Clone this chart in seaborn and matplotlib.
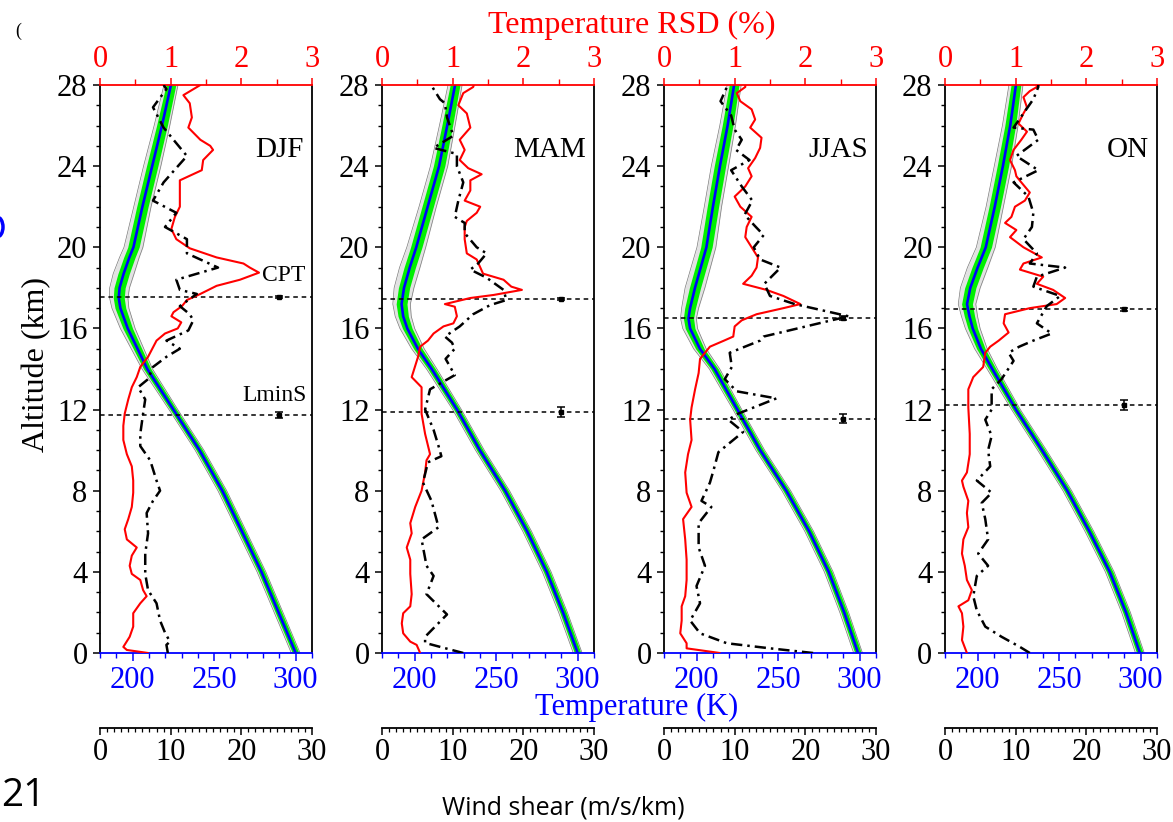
import numpy as np
import seaborn as sns
import matplotlib
matplotlib.use("Agg")
import matplotlib.pyplot as plt
from matplotlib.ticker import MultipleLocator
from matplotlib.patches import Arc

sns.set_style("ticks")
plt.rcParams["font.family"] = ["Liberation Serif", "DejaVu Serif"]
plt.rcParams["text.color"] = "black"
plt.rcParams["axes.labelcolor"] = "black"
plt.rcParams["xtick.color"] = "black"
plt.rcParams["ytick.color"] = "black"

# ---------------- data ----------------
seasons = ["DJF", "MAM", "JJAS", "ON"]
cpt_alt = [17.55, 17.45, 16.5, 16.95]
cpt_err = [0.07, 0.06, 0.10, 0.08]
lmins_alt = [11.73, 11.88, 11.55, 12.22]
lmins_err = [0.15, 0.25, 0.22, 0.25]

# mean temperature profiles (K)
djf_t_alt = [0, 2, 4, 6, 8, 10, 12, 13, 14, 15, 16, 17, 17.5, 18, 18.7, 19.5, 20, 22, 24, 26, 28]
djf_t = [300, 289.5, 279, 267, 255, 241, 225, 217, 209, 203, 197, 192.5, 191.5, 192, 194.5, 198, 200.5, 206, 212, 218, 223.5]
mam_t_alt = [0, 2, 4, 6, 8, 10, 12, 14, 15, 16, 16.6, 17.2, 18, 19, 20, 22, 24, 26, 28]
mam_t = [300, 291, 281, 269, 255.5, 240, 226, 210.5, 202, 195.5, 193, 192, 193.5, 197, 201, 208, 215, 220, 224.8]
jjas_t_alt = [0, 2, 4, 6, 8, 10, 12, 14, 15, 16, 16.5, 17, 18, 20, 22, 24, 26, 28]
jjas_t = [299, 290.5, 281, 269, 255, 239, 225, 211, 202, 196, 195, 196, 199, 206, 210, 214.3, 219, 223]
on_t_alt = [0, 2, 4, 6, 8, 10, 12, 14, 15, 16, 16.6, 17.2, 18, 19, 20, 22, 24, 26, 28]
on_t = [299.5, 291, 281, 268.5, 255, 239.5, 223.5, 209, 202, 197, 195, 193.5, 195.5, 200, 205, 210.5, 215.5, 220, 223.5]

# spread of the profiles (K, half widths)
spread_alt = [0, 4, 8, 12, 14, 15.5, 17, 18.5, 20, 22, 24, 26, 28]
green_half = [2.0, 2.0, 2.0, 2.0, 2.3, 2.8, 3.3, 3.5, 3.5, 3.5, 3.5, 3.3, 3.0]
grey_half = [2.7, 2.7, 2.7, 2.7, 3.2, 4.2, 5.2, 6.5, 5.8, 5.3, 5.3, 4.8, 4.3]

# temperature RSD (%)
djf_rsd_alt = [0.0, 0.15, 0.3, 0.8, 1.3, 1.96, 2.45, 2.8, 3.1, 3.6, 3.9, 4.3, 4.8, 5.2, 5.6, 6.1, 6.6, 7.2, 7.9,
               8.5, 9.2, 9.8, 10.5, 11.2, 11.8, 12.5, 13.1, 13.6, 14.1, 14.6, 15.4, 15.75, 16.0, 16.3, 16.6, 16.8,
               17.1, 17.4, 17.7, 18.1, 18.4, 18.75, 19.0, 19.2, 19.5, 19.95, 20.4, 20.9, 21.5, 22.0, 22.7, 23.3,
               23.8, 24.3, 24.8, 25.0, 25.3, 25.9, 26.4, 27.1, 27.5, 28.0]
djf_rsd = [0.68, 0.38, 0.33, 0.42, 0.47, 0.47, 0.57, 0.66, 0.61, 0.57, 0.45, 0.42, 0.45, 0.52, 0.38, 0.35, 0.40,
           0.45, 0.47, 0.47, 0.45, 0.38, 0.33, 0.33, 0.35, 0.40, 0.45, 0.52, 0.57, 0.68, 0.80, 0.92, 1.10, 1.15,
           1.01, 1.04, 1.16, 1.23, 1.42, 1.65, 1.98, 2.25, 2.12, 2.03, 1.65, 1.27, 1.08, 1.01, 1.06, 1.13, 1.13,
           1.13, 1.44, 1.46, 1.60, 1.56, 1.42, 1.25, 1.30, 1.27, 1.18, 1.42]
mam_rsd_alt = [0.0, 0.4, 0.56, 0.97, 1.46, 1.96, 2.3, 2.9, 3.9, 4.6, 5.2, 5.9, 6.4, 7.2, 8.0, 8.9, 9.5, 9.8, 10.8,
               11.8, 12.5, 13.1, 13.6, 14.6, 15.1, 15.4, 15.75, 16.1, 16.25, 16.6, 17.07, 17.2, 17.5, 17.65, 17.9,
               18.06, 18.4, 18.7, 19.4, 19.7, 20.4, 21.0, 21.3, 21.7, 22.0, 22.3, 22.8, 23.3, 23.6, 23.9, 24.3,
               24.8, 25.3, 25.9, 26.6, 27.0, 27.6, 27.9, 28.0]
mam_rsd = [0.54, 0.49, 0.40, 0.30, 0.28, 0.30, 0.40, 0.42, 0.40, 0.40, 0.35, 0.42, 0.40, 0.47, 0.56, 0.61, 0.63,
           0.68, 0.61, 0.56, 0.56, 0.56, 0.42, 0.51, 0.54, 0.65, 0.73, 0.87, 1.01, 1.06, 1.03, 0.89, 1.25, 1.58,
           1.98, 1.83, 1.72, 1.43, 1.34, 1.20, 1.17, 1.17, 1.20, 1.34, 1.39, 1.17, 1.25, 1.25, 1.41, 1.22, 1.10,
           1.17, 1.10, 1.25, 1.20, 1.08, 1.15, 1.29, 1.30]
jjas_rsd_alt = [0.0, 0.23, 0.48, 0.97, 1.6, 2.3, 2.8, 3.6, 4.6, 5.6, 6.6, 7.2, 7.9, 8.9, 9.8, 10.5, 11.5, 12.1,
                13.0, 13.8, 14.5, 15.1, 15.4, 15.6, 16.1, 16.4, 16.7, 17.0, 17.2, 17.6, 17.9, 18.2, 18.6, 19.0,
                19.5, 20.0, 20.5, 21.0, 21.5, 22.0, 22.5, 23.0, 23.5, 23.9, 24.4, 24.9, 25.4, 25.9, 26.3, 26.8,
                27.2, 27.6, 27.9, 28.0]
jjas_rsd = [0.79, 0.32, 0.32, 0.23, 0.25, 0.25, 0.30, 0.32, 0.32, 0.30, 0.27, 0.39, 0.32, 0.30, 0.34, 0.39, 0.37,
            0.39, 0.44, 0.49, 0.51, 0.65, 0.85, 0.98, 1.00, 1.10, 1.31, 1.69, 1.93, 1.69, 1.45, 1.12, 1.24, 1.31,
            1.33, 1.24, 1.15, 1.17, 1.24, 1.08, 1.00, 1.15, 1.24, 1.19, 1.29, 1.36, 1.38, 1.22, 1.29, 1.24, 1.08,
            1.03, 1.15, 1.15]
on_rsd_alt = [0.0, 0.64, 1.3, 1.96, 2.3, 2.6, 3.1, 3.6, 4.3, 4.9, 5.6, 6.2, 6.9, 7.5, 8.2, 8.5, 8.9, 9.8, 10.8,
              12.1, 13.0, 13.6, 14.1, 14.8, 15.1, 15.4, 15.8, 16.25, 16.7, 17.0, 17.2, 17.5, 17.9, 18.2, 18.55,
              18.9, 19.2, 19.5, 20.0, 20.5, 20.85, 21.2, 21.5, 22.0, 22.3, 22.7, 23.2, 23.5, 23.8, 24.3, 24.8,
              25.3, 25.7, 26.1, 26.6, 26.9, 27.4, 27.7, 27.9, 28.0]
on_rsd = [0.31, 0.24, 0.26, 0.24, 0.19, 0.33, 0.38, 0.31, 0.28, 0.24, 0.26, 0.33, 0.31, 0.33, 0.26, 0.24, 0.31,
          0.35, 0.35, 0.33, 0.33, 0.40, 0.54, 0.57, 0.64, 0.76, 0.90, 0.83, 0.85, 1.20, 1.58, 1.70, 1.53, 1.30,
          1.39, 1.06, 1.11, 1.37, 1.11, 0.92, 1.01, 0.85, 0.94, 0.99, 1.13, 1.20, 1.08, 1.01, 0.99, 0.92, 0.97,
          1.08, 1.16, 1.04, 1.11, 1.16, 1.11, 1.20, 1.30, 1.30]

# wind shear (m/s/km)
djf_ws_alt = [0.0, 0.4, 0.56, 1.0, 1.6, 2.45, 3.1, 3.9, 4.9, 5.9, 6.9, 7.5, 8.0, 8.5, 9.5, 10.2, 10.8, 11.8, 12.5,
              13.1, 13.5, 14.1, 14.6, 15.0, 15.4, 15.9, 16.4, 16.7, 17.1, 17.7, 17.9, 18.4, 19.0, 19.7, 20.4,
              21.0, 21.7, 22.3, 23.2, 24.5, 25.3, 25.9, 26.9, 27.8, 28.0]
djf_ws = [9.6, 9.4, 9.9, 9.2, 8.5, 8.0, 6.8, 6.4, 6.4, 6.8, 6.6, 7.5, 8.5, 8.0, 7.1, 5.7, 5.7, 6.1, 6.4, 5.4, 6.8,
          7.5, 9.4, 11.3, 9.4, 12.5, 13.2, 12.7, 11.3, 13.7, 11.3, 10.8, 16.7, 12.3, 12.3, 9.2, 10.8, 7.5, 9.0,
          12.3, 10.4, 9.0, 7.5, 9.4, 9.0]
mam_ws_alt = [0.0, 0.35, 0.5, 0.8, 1.9, 2.9, 3.8, 4.3, 5.6, 6.2, 7.5, 8.4, 9.4, 9.7, 10.2, 11.0, 12.0, 13.0, 13.7,
              14.5, 15.0, 15.3, 15.6, 16.1, 16.7, 17.15, 17.4, 17.9, 18.5, 18.9, 19.2, 19.7, 20.0, 20.7, 21.2,
              21.5, 22.3, 23.2, 24.0, 24.6, 24.9, 25.5, 26.4, 27.1, 27.3, 27.8, 28.0]
mam_ws = [11.5, 7.7, 6.1, 6.1, 9.2, 6.3, 7.3, 6.3, 5.6, 8.0, 7.0, 5.8, 6.5, 8.4, 8.0, 7.3, 6.1, 6.8, 10.3, 9.0,
          10.3, 9.9, 8.9, 11.0, 12.9, 15.3, 17.6, 17.2, 14.8, 12.5, 13.6, 14.8, 13.4, 11.7, 11.7, 10.3, 10.8,
          11.5, 10.6, 10.6, 7.3, 10.1, 9.2, 8.9, 8.2, 7.3, 7.0]
jjas_ws_alt = [0.0, 0.23, 0.48, 0.97, 1.6, 2.45, 3.3, 4.3, 5.2, 6.4, 7.2, 7.5, 8.4, 9.0, 9.9, 10.9, 11.5, 11.8,
               12.55, 12.9, 13.5, 14.1, 14.8, 15.4, 15.6, 16.3, 16.6, 17.2, 17.6, 18.2, 19.0, 19.4, 20.0, 20.6,
               21.0, 21.6, 22.3, 23.0, 23.8, 24.3, 24.8, 25.3, 25.8, 26.5, 27.2, 27.9, 28.0]
jjas_ws = [21.1, 15.0, 8.9, 5.1, 3.7, 5.1, 4.6, 5.8, 4.9, 4.9, 6.7, 5.3, 6.5, 7.0, 7.7, 11.2, 9.1, 10.5, 15.9,
           10.3, 8.6, 9.6, 9.3, 13.6, 14.1, 22.5, 26.1, 18.5, 15.0, 14.2, 16.5, 13.6, 12.7, 14.1, 13.0, 11.4,
           12.5, 11.0, 9.5, 12.1, 10.2, 11.0, 10.0, 9.5, 8.0, 8.9, 9.0]
on_ws_alt = [0.0, 0.3, 0.8, 1.3, 2.1, 2.8, 3.8, 4.3, 4.9, 5.6, 6.6, 7.4, 7.9, 8.5, 9.2, 10.0, 10.7, 11.5, 12.0,
             13.0, 13.5, 14.4, 14.8, 15.1, 15.4, 15.75, 16.25, 17.1, 17.6, 18.06, 18.55, 19.0, 19.2, 19.7, 20.4,
             21.0, 21.7, 22.5, 23.2, 23.8, 24.5, 25.3, 25.8, 25.9, 26.6, 27.3, 27.9, 28.0]
on_ws = [12.0, 10.6, 8.0, 5.7, 4.5, 4.0, 4.5, 6.1, 4.7, 6.1, 5.7, 5.2, 6.6, 4.5, 6.4, 6.1, 6.6, 5.7, 6.6, 6.6,
         8.0, 9.7, 9.0, 10.5, 12.5, 15.1, 13.0, 14.4, 16.3, 12.5, 13.0, 17.0, 12.0, 13.0, 11.1, 12.3, 12.5, 11.8,
         9.7, 13.2, 10.1, 13.2, 12.5, 9.7, 11.1, 12.5, 13.2, 13.2]

T_ALT = {"DJF": djf_t_alt, "MAM": mam_t_alt, "JJAS": jjas_t_alt, "ON": on_t_alt}
T_VAL = {"DJF": djf_t, "MAM": mam_t, "JJAS": jjas_t, "ON": on_t}
R_ALT = {"DJF": djf_rsd_alt, "MAM": mam_rsd_alt, "JJAS": jjas_rsd_alt, "ON": on_rsd_alt}
R_VAL = {"DJF": djf_rsd, "MAM": mam_rsd, "JJAS": jjas_rsd, "ON": on_rsd}
W_ALT = {"DJF": djf_ws_alt, "MAM": mam_ws_alt, "JJAS": jjas_ws_alt, "ON": on_ws_alt}
W_VAL = {"DJF": djf_ws, "MAM": mam_ws, "JJAS": jjas_ws, "ON": on_ws}

# ---------------- figure ----------------
W, H = 1173, 822
fig = plt.figure(figsize=(W / 100, H / 100), dpi=100)
lefts = [100, 382, 664, 945]
pw, top_px, bot_px = 212, 85, 653
FS = 22
RED, BLUE, GREEN = "#ff0000", "#0000ff", "#00f000"

for i, s in enumerate(seasons):
    ax = fig.add_axes([lefts[i] / W, (H - bot_px) / H, pw / W, (bot_px - top_px) / H])
    ax.set_facecolor("white")

    ta = np.array(T_ALT[s], dtype=float)
    tv = np.array(T_VAL[s], dtype=float)
    g = np.interp(ta, spread_alt, green_half)
    gr = np.interp(ta, spread_alt, grey_half)
    ax.fill_betweenx(ta, tv - gr, tv + gr, color="#e2e2e2", lw=0, zorder=1)
    ax.plot(tv - gr, ta, color="#7a7a7a", lw=0.5, zorder=1.5)
    ax.plot(tv + gr, ta, color="#7a7a7a", lw=0.5, zorder=1.5)
    ax.fill_betweenx(ta, tv - g, tv + g, color=GREEN, lw=0, zorder=2)
    sns.lineplot(x=tv, y=ta, orient="y", sort=False, estimator=None, ax=ax,
                 color=BLUE, linewidth=1.9, legend=False, zorder=3)

    # tropopause / LminS levels
    for yv, ev in ((cpt_alt[i], cpt_err[i]), (lmins_alt[i], lmins_err[i])):
        ax.axhline(yv, color="black", lw=1.1, ls=(0, (3, 2.5)), zorder=4)
        ax.errorbar([290], [yv], yerr=[ev], fmt="s", ms=2.5, color="black",
                    capsize=3, elinewidth=1.1, capthick=1.1, zorder=5)

    ax.set_xlim(180, 310)
    ax.set_ylim(0, 28)
    ax.set_xlabel("")
    ax.set_ylabel("")
    ax.xaxis.set_major_locator(MultipleLocator(50))
    ax.xaxis.set_minor_locator(MultipleLocator(10))
    ax.yaxis.set_major_locator(MultipleLocator(4))
    ax.yaxis.set_minor_locator(MultipleLocator(1))
    ax.tick_params(axis="x", which="both", colors=BLUE, direction="out", labelsize=FS, pad=3,
                   top=False, bottom=True)
    ax.tick_params(axis="x", which="major", length=6, width=1.1)
    ax.tick_params(axis="x", which="minor", length=3.5, width=1.0)
    ax.tick_params(axis="y", which="both", colors="black", labelcolor="black", direction="out",
                   labelsize=FS, pad=4, left=True, right=False)
    ax.tick_params(axis="y", which="major", length=5, width=1.1)
    ax.tick_params(axis="y", which="minor", length=3, width=1.0)
    ax.spines["bottom"].set_color(BLUE)
    ax.spines["left"].set_color("black")
    ax.spines["right"].set_color("black")
    ax.spines["top"].set_visible(False)
    for sp in ax.spines.values():
        sp.set_linewidth(1.3)

    # RSD (top axis)
    axr = ax.twiny()
    sns.lineplot(x=R_VAL[s], y=R_ALT[s], orient="y", sort=False, estimator=None, ax=axr,
                 color=RED, linewidth=1.5, legend=False, zorder=6)
    axr.set_xlim(0, 3)
    axr.set_ylim(0, 28)
    axr.set_xlabel("")
    axr.set_ylabel("")
    axr.xaxis.set_major_locator(MultipleLocator(1))
    axr.xaxis.set_minor_locator(MultipleLocator(0.5))
    axr.tick_params(axis="x", which="both", colors=RED, direction="out", labelsize=FS, pad=3)
    axr.tick_params(axis="x", which="major", length=5, width=1.1)
    axr.tick_params(axis="x", which="minor", length=4, width=1.0)
    for k in ("left", "right", "bottom"):
        axr.spines[k].set_visible(False)
    axr.spines["top"].set_color(RED)
    axr.spines["top"].set_linewidth(1.3)

    # wind shear (lower detached axis)
    axw = ax.twiny()
    sns.lineplot(x=W_VAL[s], y=W_ALT[s], orient="y", sort=False, estimator=None, ax=axw,
                 color="black", linewidth=1.8, linestyle=(0, (4.5, 2.0, 1.0, 2.0)), legend=False, zorder=5)
    axw.set_xlim(0, 30)
    axw.set_ylim(0, 28)
    axw.set_xlabel("")
    axw.set_ylabel("")
    axw.xaxis.set_ticks_position("bottom")
    axw.xaxis.set_label_position("bottom")
    axw.spines["bottom"].set_position(("outward", 54))
    for k in ("left", "right", "top"):
        axw.spines[k].set_visible(False)
    axw.spines["bottom"].set_color("black")
    axw.spines["bottom"].set_linewidth(1.3)
    axw.xaxis.set_major_locator(MultipleLocator(10))
    axw.xaxis.set_minor_locator(MultipleLocator(1))
    axw.tick_params(axis="x", which="both", colors="black", labelcolor="black", direction="out",
                    labelsize=FS, pad=2)
    axw.tick_params(axis="x", which="major", length=5, width=1.1)
    axw.tick_params(axis="x", which="minor", length=3, width=0.9)

    # season label
    ax.text(0.962, 0.8856, s, transform=ax.transAxes, ha="right", va="center", fontsize=21,
            color="black", zorder=7)
    if i == 0:
        ax.text(0.967, 18.63, "CPT", transform=ax.get_yaxis_transform(), ha="right", va="center",
                fontsize=17, color="black", zorder=7)
        ax.text(0.976, 12.7, "LminS", transform=ax.get_yaxis_transform(), ha="right", va="center",
                fontsize=17, color="black", zorder=7)

# shared labels
fig.text(632 / W, 1 - 25 / H, "Temperature RSD (%)", color=RED, fontsize=23, ha="center", va="center")
fig.text(637 / W, 1 - 707 / H, "Temperature (K)", color=BLUE, fontsize=22, ha="center", va="center")
fig.text(37 / W, 1 - 365 / H, "Altitude (km)", color="black", fontsize=23, rotation=90,
         ha="center", va="center")
fig.text(563 / W, 1 - 808 / H, "Wind shear (m/s/km)", color="black", fontsize=18,
         family=["Open Sans", "DejaVu Sans"], ha="center", va="center")
fig.text(1 / W, 1 - 796 / H, "21", color="black", fontsize=28,
         family=["Open Sans", "DejaVu Sans"], ha="left", va="center")
fig.text(18 / W, 1 - 31 / H, "(", color="black", fontsize=13, ha="center", va="center")
# cropped blue glyph fragment at the left edge (drawn as an arc mark)
fig.patches.append(Arc((-3 / W, 1 - 227 / H), 12 / W, 20 / H, theta1=-90, theta2=90,
                       transform=fig.transFigure, color=BLUE, lw=2.5))

fig.savefig("out.png", dpi=100, facecolor="white")
